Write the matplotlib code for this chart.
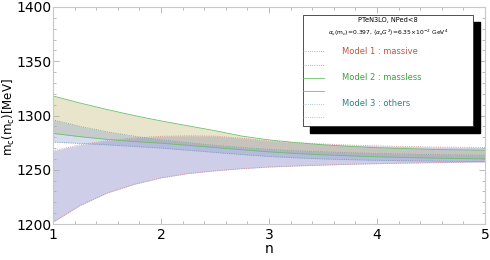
import matplotlib
matplotlib.use('Agg')
import matplotlib.pyplot as plt
from matplotlib.patches import Rectangle
from matplotlib.lines import Line2D
from matplotlib.ticker import MultipleLocator

# band edges
n = [1, 1.25, 1.5, 1.75, 2, 2.25, 2.5, 2.75, 3, 3.25, 3.5, 3.75, 4, 4.25, 4.5, 4.75, 5]
m1_hi = [1267.5, 1273, 1276.8, 1279.3, 1280.8, 1281.3, 1281, 1279, 1276.5, 1275, 1273.8, 1272.8, 1272, 1271.5, 1271, 1270.8, 1270.5]
m1_lo = [1201.6, 1217, 1228.5, 1236.5, 1242.5, 1246.5, 1249, 1251, 1252.5, 1253.5, 1254.3, 1255, 1255.6, 1256.1, 1256.5, 1256.9, 1257.2]
m2_hi = [1318, 1311.5, 1305.5, 1300, 1295, 1290.5, 1286, 1281, 1277.5, 1275, 1273, 1271.5, 1270.3, 1269.5, 1268.8, 1268.3, 1268]
m2_lo = [1283.5, 1280.5, 1278, 1276, 1274.5, 1272.5, 1270.5, 1268.5, 1266.5, 1265, 1263.8, 1262.8, 1262, 1261.3, 1260.8, 1260.4, 1260]
m3_hi = [1296, 1290, 1285, 1281, 1277.5, 1275, 1272.5, 1270.5, 1268.8, 1267.5, 1266.5, 1265.7, 1265, 1264.5, 1264, 1263.7, 1263.4]
m3_lo = [1275.5, 1274.3, 1273, 1271.5, 1270, 1268, 1266, 1264, 1262.3, 1261, 1260, 1259.3, 1258.7, 1258.3, 1258, 1257.7, 1257.5]

labels = ['Model 1 : massive', 'Model 2 : massless', 'Model 3 : others']
text_cols = ['#b8583e', '#3fa03f', '#2f7f8a']

fig = plt.figure(figsize=(4.9, 2.6), dpi=100)
ax = fig.add_axes([53/490, 1 - 224/260, 432/490, 217/260])

# fills
ax.fill_between(n, m1_lo, m1_hi, color=(0.45, 0.45, 0.75), alpha=0.35, lw=0)
ax.fill_between(n, m2_lo, m2_hi, color=(0.71, 0.67, 0.35), alpha=0.3, lw=0)
ax.fill_between(n, m3_lo, m3_hi, color=(0.48, 0.57, 0.80), alpha=0.3, lw=0)

# edges
for y in (m1_lo, m1_hi):
    ax.plot(n, y, color='#d08080', lw=0.6, ls=':')
for y in (m2_lo, m2_hi):
    ax.plot(n, y, color='#6cbf6c', lw=0.6)
for y in (m3_lo, m3_hi):
    ax.plot(n, y, color='#6f98a8', lw=0.6, ls=':')

ax.set_xlim(1, 5)
ax.set_ylim(1200, 1400)
ax.xaxis.set_major_locator(MultipleLocator(1))
ax.xaxis.set_minor_locator(MultipleLocator(0.2))
ax.yaxis.set_major_locator(MultipleLocator(50))
ax.yaxis.set_minor_locator(MultipleLocator(10))
ax.tick_params(which='both', direction='in', top=True, right=True, color='#b0b0b0',
               labelsize=10, width=0.6)
ax.tick_params(which='major', length=4, pad=1)
ax.tick_params(axis='x', which='major', pad=3)
ax.tick_params(which='minor', length=2)
for s in ax.spines.values():
    s.set_color('#c8c8c8')
    s.set_linewidth(0.8)
ax.set_xlabel('n', fontsize=10, labelpad=0)
ax.set_ylabel('m$_\\mathregular{c}$(m$_\\mathregular{c}$)[MeV]', fontsize=8.5)
ax.yaxis.set_label_coords(-0.083, 0.49)

# legend box with black shadow, drawn by hand
x0, x1, y0, y1 = 0.579, 0.972, 0.452, 0.963
dx, dy = 7/432, 7/217
ax.add_patch(Rectangle((x0 + dx, y0 - dy), x1 - x0, y1 - y0, transform=ax.transAxes,
                       facecolor='black', edgecolor='black', zorder=5, clip_on=False))
ax.add_patch(Rectangle((x0, y0), x1 - x0, y1 - y0, transform=ax.transAxes,
                       facecolor='white', edgecolor='#333333', lw=0.6, zorder=6, clip_on=False))
ax.text(0.775, 0.94, 'PTeN3LO, NPed<8', transform=ax.transAxes, ha='center', va='center',
        fontsize=4.8, zorder=7)
ax.text(0.775, 0.88, '$\\alpha_s$(m$_c$)=0.397, $\\langle\\alpha_s G^2\\rangle$=6.35$\\times10^{-2}$ GeV$^4$',
        transform=ax.transAxes, ha='center', va='center', fontsize=4.3, zorder=7)
handle_cols = ['#d08080', '#6cbf6c', '#8fb8c8']
handle_ls = [':', '-', ':']
rows = [0.795, 0.675, 0.555]
for lab, tc, hc, hls, yr in zip(labels, text_cols, handle_cols, handle_ls, rows):
    ax.text(0.668, yr, lab, transform=ax.transAxes, ha='left', va='center',
            fontsize=6, color=tc, zorder=7)
    for yy in (yr, yr - 0.06):
        ax.add_line(Line2D([x0, 0.628], [yy, yy], transform=ax.transAxes, color=hc,
                           lw=0.6, ls=hls, zorder=7, clip_on=False))

fig.savefig('out.png', dpi=100)
